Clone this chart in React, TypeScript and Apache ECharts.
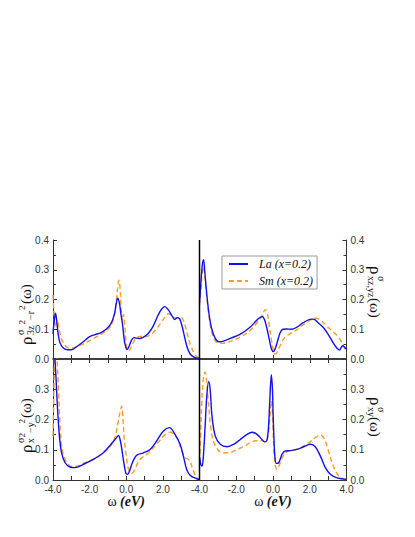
import React, { useEffect, useRef } from 'react';
import * as echarts from 'echarts';

// ---- data: [omega (eV), DOS] ----
const TL_LA = [[-4.0,0.085],[-3.93,0.13],[-3.86,0.154],[-3.8,0.13],[-3.72,0.085],[-3.62,0.055],[-3.45,0.038],[-3.2,0.031],[-3.0,0.031],[-2.7,0.042],[-2.35,0.058],[-2.0,0.075],[-1.7,0.082],[-1.4,0.088],[-1.1,0.1],[-0.85,0.117],[-0.65,0.15],[-0.55,0.185],[-0.47,0.204],[-0.38,0.19],[-0.3,0.155],[-0.2,0.115],[-0.1,0.06],[0.0,0.035],[0.05,0.032],[0.15,0.042],[0.28,0.062],[0.42,0.072],[0.55,0.07],[0.7,0.069],[0.92,0.073],[1.2,0.086],[1.45,0.108],[1.7,0.142],[1.9,0.165],[2.1,0.176],[2.3,0.165],[2.5,0.145],[2.65,0.133],[2.8,0.139],[2.92,0.135],[3.05,0.11],[3.2,0.07],[3.35,0.035],[3.5,0.016],[3.7,0.006],[4.0,0.002]];
const TL_SM = [[-4.0,0.215],[-3.95,0.16],[-3.9,0.11],[-3.85,0.115],[-3.77,0.13],[-3.68,0.105],[-3.55,0.07],[-3.4,0.05],[-3.2,0.038],[-3.0,0.036],[-2.7,0.042],[-2.35,0.05],[-2.0,0.062],[-1.7,0.072],[-1.4,0.082],[-1.1,0.094],[-0.85,0.11],[-0.68,0.14],[-0.55,0.19],[-0.46,0.245],[-0.4,0.265],[-0.34,0.24],[-0.28,0.17],[-0.22,0.13],[-0.15,0.15],[-0.09,0.12],[-0.03,0.07],[0.05,0.032],[0.15,0.028],[0.25,0.038],[0.4,0.058],[0.55,0.07],[0.75,0.076],[1.0,0.075],[1.3,0.08],[1.6,0.098],[1.9,0.122],[2.1,0.14],[2.3,0.152],[2.5,0.147],[2.7,0.138],[2.85,0.138],[3.0,0.14],[3.12,0.13],[3.25,0.105],[3.4,0.07],[3.55,0.04],[3.7,0.02],[3.85,0.008],[4.0,0.003]];
const TR_LA = [[-4.0,0.19],[-3.92,0.26],[-3.85,0.315],[-3.78,0.334],[-3.72,0.3],[-3.63,0.235],[-3.5,0.16],[-3.35,0.105],[-3.15,0.07],[-2.95,0.058],[-2.7,0.06],[-2.3,0.07],[-1.8,0.083],[-1.25,0.107],[-0.8,0.135],[-0.58,0.143],[-0.45,0.13],[-0.32,0.1],[-0.2,0.065],[-0.08,0.033],[0.03,0.025],[0.12,0.035],[0.25,0.06],[0.4,0.09],[0.55,0.1],[0.75,0.101],[1.0,0.1],[1.3,0.107],[1.65,0.122],[2.0,0.133],[2.2,0.134],[2.45,0.122],[2.75,0.105],[3.05,0.078],[3.3,0.052],[3.5,0.035],[3.62,0.03],[3.72,0.04],[3.8,0.045],[3.88,0.04],[4.0,0.033]];
const TR_SM = [[-4.0,0.18],[-3.92,0.24],[-3.85,0.29],[-3.79,0.31],[-3.72,0.285],[-3.63,0.225],[-3.5,0.15],[-3.35,0.095],[-3.15,0.062],[-2.95,0.053],[-2.7,0.053],[-2.3,0.06],[-1.8,0.073],[-1.3,0.093],[-0.9,0.12],[-0.6,0.146],[-0.42,0.166],[-0.32,0.155],[-0.22,0.12],[-0.1,0.07],[0.0,0.035],[0.1,0.017],[0.2,0.02],[0.35,0.04],[0.55,0.065],[0.8,0.08],[1.2,0.094],[1.6,0.113],[2.0,0.13],[2.3,0.137],[2.6,0.13],[2.9,0.112],[3.2,0.095],[3.5,0.078],[3.7,0.06],[3.85,0.042],[4.0,0.022]];
const BL_LA = [[-4.0,0.46],[-3.92,0.42],[-3.84,0.343],[-3.76,0.244],[-3.65,0.145],[-3.53,0.09],[-3.34,0.057],[-3.07,0.043],[-2.8,0.041],[-2.34,0.052],[-1.8,0.068],[-1.25,0.09],[-0.89,0.114],[-0.61,0.134],[-0.43,0.147],[-0.3,0.123],[-0.16,0.068],[-0.02,0.022],[0.08,0.019],[0.18,0.03],[0.3,0.052],[0.45,0.072],[0.6,0.083],[0.94,0.09],[1.3,0.101],[1.66,0.129],[2.03,0.162],[2.36,0.173],[2.67,0.15],[2.94,0.118],[3.12,0.079],[3.3,0.035],[3.5,0.015],[3.85,0.004],[4.0,0.002]];
const BL_SM = [[-4.0,0.145],[-3.95,0.3],[-3.9,0.42],[-3.84,0.44],[-3.78,0.4],[-3.7,0.3],[-3.62,0.19],[-3.53,0.112],[-3.34,0.068],[-3.07,0.046],[-2.8,0.044],[-2.34,0.055],[-1.8,0.068],[-1.25,0.09],[-0.79,0.118],[-0.6,0.145],[-0.45,0.19],[-0.34,0.225],[-0.25,0.244],[-0.18,0.2],[-0.1,0.13],[-0.02,0.09],[0.08,0.045],[0.2,0.027],[0.3,0.022],[0.42,0.03],[0.54,0.045],[0.75,0.068],[1.12,0.085],[1.66,0.118],[2.12,0.15],[2.39,0.158],[2.76,0.14],[3.03,0.096],[3.21,0.074],[3.4,0.068],[3.5,0.06],[3.63,0.035],[3.85,0.008],[4.0,0.002]];
const BR_LA = [[-4.0,0.075],[-3.92,0.05],[-3.86,0.046],[-3.8,0.07],[-3.7,0.17],[-3.6,0.28],[-3.5,0.326],[-3.42,0.3],[-3.32,0.211],[-3.14,0.145],[-2.87,0.118],[-2.5,0.11],[-2.14,0.118],[-1.78,0.134],[-1.41,0.151],[-1.14,0.158],[-0.87,0.151],[-0.6,0.134],[-0.45,0.126],[-0.34,0.13],[-0.25,0.17],[-0.18,0.255],[-0.09,0.348],[-0.03,0.3],[0.0,0.23],[0.05,0.14],[0.1,0.08],[0.18,0.055],[0.31,0.057],[0.49,0.085],[0.67,0.096],[0.95,0.097],[1.31,0.101],[1.67,0.11],[2.03,0.118],[2.3,0.11],[2.58,0.079],[2.85,0.041],[3.12,0.019],[3.49,0.007],[4.0,0.002]];
const BR_SM = [[-4.0,0.06],[-3.95,0.13],[-3.88,0.25],[-3.8,0.33],[-3.7,0.357],[-3.62,0.33],[-3.52,0.26],[-3.4,0.18],[-3.25,0.13],[-3.0,0.1],[-2.7,0.09],[-2.4,0.09],[-2.0,0.1],[-1.6,0.11],[-1.2,0.125],[-0.9,0.13],[-0.6,0.13],[-0.42,0.125],[-0.3,0.135],[-0.18,0.2],[-0.08,0.262],[-0.02,0.2],[0.05,0.1],[0.12,0.05],[0.22,0.035],[0.35,0.05],[0.55,0.08],[0.8,0.095],[1.2,0.1],[1.6,0.11],[2.0,0.125],[2.3,0.14],[2.6,0.148],[2.8,0.135],[3.0,0.1],[3.2,0.06],[3.4,0.03],[3.6,0.012],[3.8,0.005],[4.0,0.002]];

const SERIES_NAMES = ['La (x=0.2)', 'Sm (x=0.2)'];

const BLUE = '#1010f2';
const ORANGE = '#ff9c22';
const FRAME = '#333';
const TICK_FONT = { fontFamily: 'Liberation Sans', fontSize: 10, color: '#333' };
const SERIF = 'Liberation Serif';

function xAxisOf(gridIndex: number, o: any) {
  return {
    type: 'value', gridIndex, min: -4, max: 4, interval: 1,
    position: o.top ? 'top' : 'bottom',
    axisLine: { show: o.line !== false, onZero: false, lineStyle: { color: o.lineColor || FRAME, width: o.lineWidth || 1 } },
    axisTick: { show: true, inside: true, length: 4, lineStyle: { color: FRAME } },
    axisLabel: {
      show: !!o.labels, margin: 4, ...TICK_FONT,
      formatter: (v: number) => {
        const r = Math.round(v);
        if (r % 2 !== 0) return '';
        if (o.hideMax && r === 4) return '';
        return v.toFixed(1);
      },
    },
    splitLine: { show: false },
    name: o.name ? '{w|ω} {e|(eV)}' : '',
    nameLocation: 'middle', nameGap: 11,
    nameTextStyle: {
      rich: {
        w: { fontFamily: SERIF, fontSize: 14, color: '#111' },
        e: { fontFamily: SERIF, fontSize: 14, fontStyle: 'italic', fontWeight: 'bold', color: '#111' },
      },
    },
  };
}

function yAxisOf(gridIndex: number, o: any) {
  return {
    type: 'value', gridIndex, min: 0, max: 0.4, interval: 0.1,
    position: o.right ? 'right' : 'left',
    axisLine: { show: true, onZero: false, lineStyle: { color: FRAME, width: 1 } },
    axisTick: { show: true, inside: true, length: 4, lineStyle: { color: FRAME } },
    minorTick: { show: true, splitNumber: 2, length: 3, lineStyle: { color: FRAME } },
    axisLabel: {
      show: true, margin: 4, ...TICK_FONT,
      formatter: (v: number) => (o.hideTop && v > 0.35 ? '' : v.toFixed(1)),
    },
    splitLine: { show: false },
    minorSplitLine: { show: false },
  };
}

function yTitle(x: number, y: number, rotation: number, tokens: any[]) {
  return {
    type: 'group', x, y, rotation, silent: true,
    children: tokens.map((t) => ({
      type: 'text', x: t[0], y: t[1],
      style: {
        text: t[2], fontFamily: SERIF, fontSize: t[3], fill: '#111',
        align: 'left', verticalAlign: 'middle',
      },
    })),
  };
}

function line(name: string, data: number[][], idx: number, dashed: boolean) {
  return {
    name, type: 'line', data, xAxisIndex: idx, yAxisIndex: idx,
    showSymbol: false, symbol: 'none', smooth: 0.35, clip: true,
    lineStyle: { color: dashed ? ORANGE : BLUE, width: 1.4, type: dashed ? [5, 3] : 'solid' },
    itemStyle: { color: dashed ? ORANGE : BLUE },
    z: dashed ? 2 : 3,
  };
}

export default function App() {
  const ref = useRef<HTMLDivElement>(null);
  useEffect(() => {
    const chart = echarts.init(ref.current as HTMLDivElement, null, { renderer: 'svg' });
    const option: any = {
      animation: false,
      backgroundColor: '#fff',
      grid: [
        { left: 53, top: 240, width: 146.5, height: 119 },
        { left: 199.5, top: 240, width: 147, height: 119 },
        { left: 53, top: 359, width: 146.5, height: 121 },
        { left: 199.5, top: 359, width: 147, height: 121 },
      ],
      xAxis: [
        xAxisOf(0, { lineColor: '#000', lineWidth: 1.5 }),
        xAxisOf(1, { lineColor: '#000', lineWidth: 1.5 }),
        xAxisOf(2, { labels: true, hideMax: true, name: true }),
        xAxisOf(3, { labels: true, name: true }),
        xAxisOf(2, { top: true, line: false }),
        xAxisOf(3, { top: true, line: false }),
      ],
      yAxis: [
        yAxisOf(0, {}),
        yAxisOf(1, { right: true }),
        yAxisOf(2, { hideTop: true }),
        yAxisOf(3, { right: true, hideTop: true }),
      ],
      legend: {
        left: 222, top: 256, orient: 'vertical',
        padding: [2, 4, 2, 6], itemGap: 5, itemWidth: 19, itemHeight: 10,
        borderColor: '#999', borderWidth: 1, borderRadius: 0,
        itemStyle: { opacity: 0, borderWidth: 0 },
        textStyle: { fontFamily: SERIF, fontStyle: 'italic', fontSize: 12, color: '#111', padding: [0, 0, 0, 6] },
        data: SERIES_NAMES,
      },
      series: [
        line(SERIES_NAMES[1], TL_SM, 0, true), line(SERIES_NAMES[0], TL_LA, 0, false),
        line(SERIES_NAMES[1], TR_SM, 1, true), line(SERIES_NAMES[0], TR_LA, 1, false),
        line(SERIES_NAMES[1], BL_SM, 2, true), line(SERIES_NAMES[0], BL_LA, 2, false),
        line(SERIES_NAMES[1], BR_SM, 3, true), line(SERIES_NAMES[0], BR_LA, 3, false),
      ],
      graphic: [
        { type: 'line', shape: { x1: 199.5, y1: 240, x2: 199.5, y2: 480 }, style: { stroke: '#000', lineWidth: 1.5 }, z: 100 },
        yTitle(26, 345, Math.PI / 2, [
          [0, 0, 'ρ', 17], [10, -6, 'σ', 10], [10, 4, '3z', 10], [20.5, -4, '2', 9],
          [25, 4, '−r', 10], [35, -4, '2', 9], [41, 0, '(ω)', 15],
        ]),
        yTitle(26, 453, Math.PI / 2, [
          [0, 0, 'ρ', 17], [10, -6, 'σ', 10], [10, 4, 'x', 10], [15.5, -4, '2', 9],
          [20, 4, '−y', 10], [29.5, -4, '2', 9], [35, 0, '(ω)', 15],
        ]),
        yTitle(375, 266, -Math.PI / 2, [
          [0, 0, 'ρ', 17], [10, -6, 'σ', 10], [10, 4, 'xz,yz', 10], [32, 0, '(ω)', 15],
        ]),
        yTitle(375, 397, -Math.PI / 2, [
          [0, 0, 'ρ', 17], [10, -6, 'σ', 10], [10, 4, 'xy', 10], [20, 0, '(ω)', 15],
        ]),
      ],
    };
    chart.setOption(option);
    return () => chart.dispose();
  }, []);
  return <div ref={ref} style={{ position: 'fixed', left: 0, top: 0, width: 415, height: 537 }} />;
}
